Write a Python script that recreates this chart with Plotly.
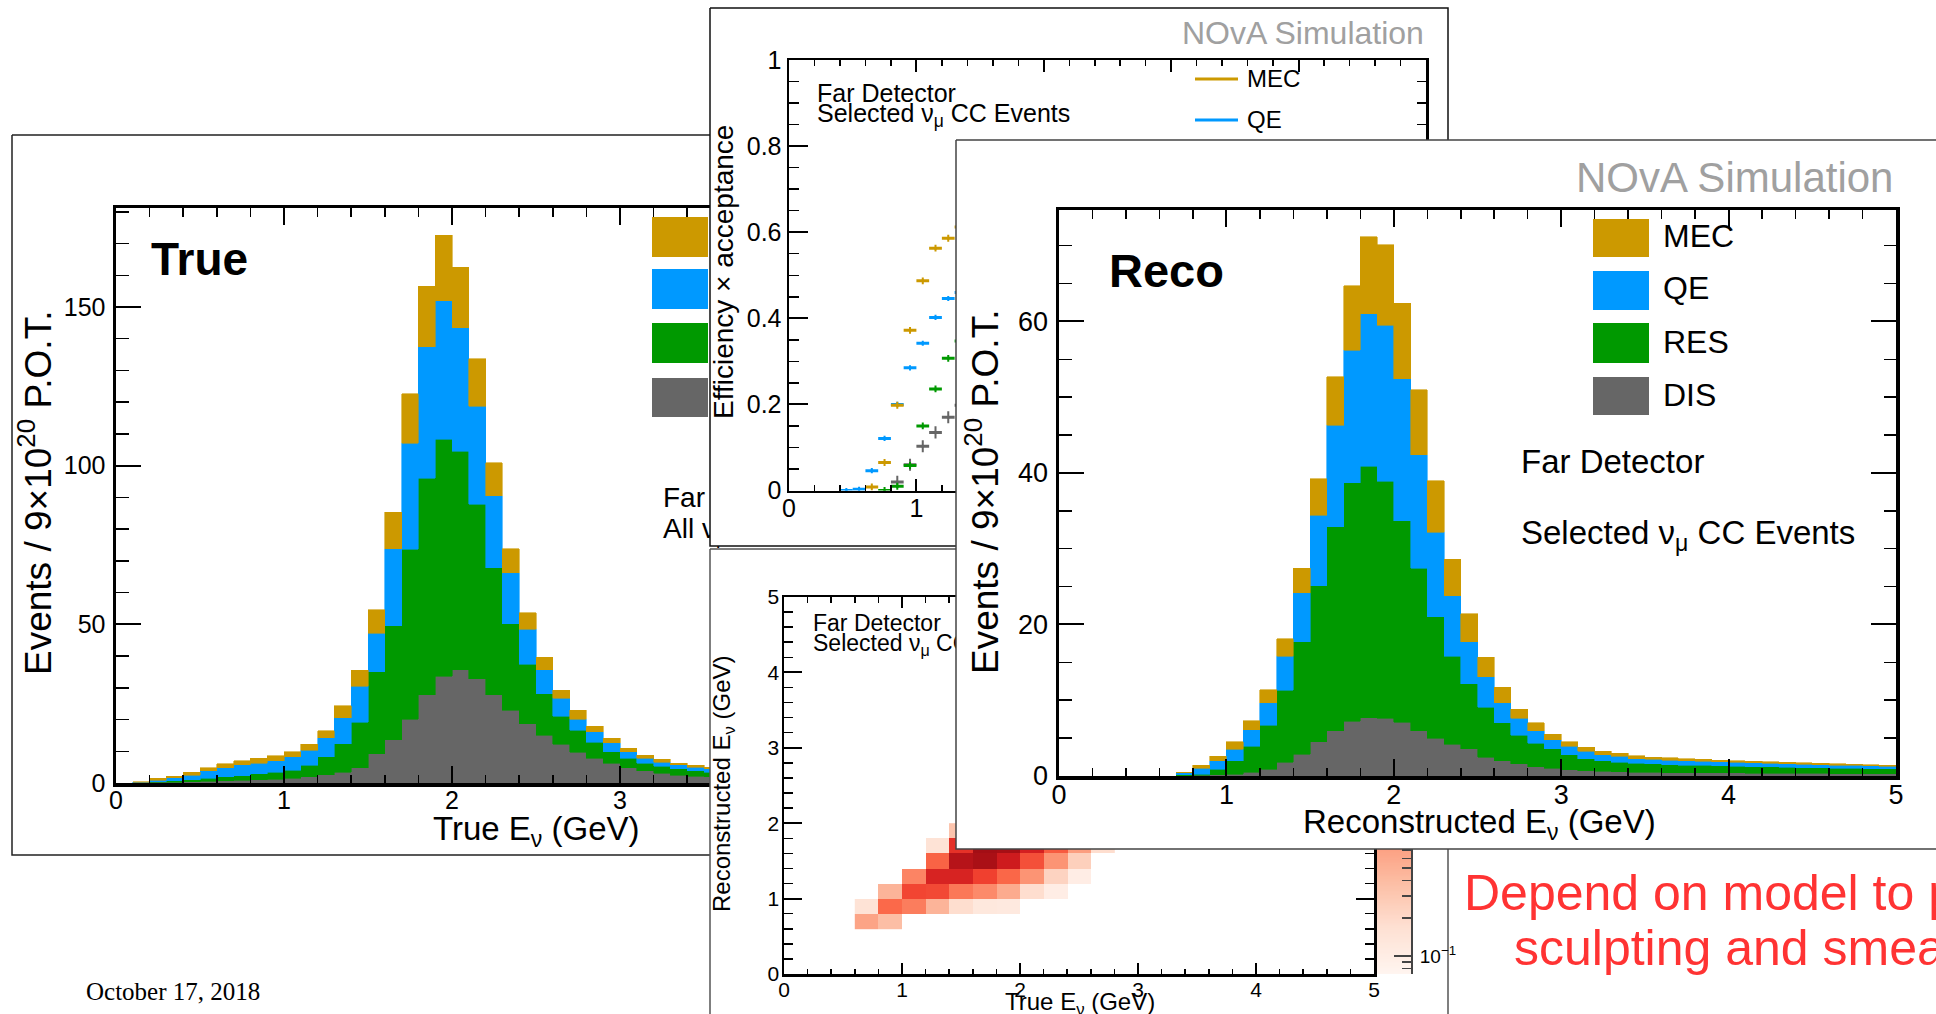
import math
import numpy as np
import plotly.graph_objects as go

W, H = 1936, 1014
SANS = "Liberation Sans, Arial, Helvetica, sans-serif"
SERIF = "Liberation Serif, Times New Roman, serif"

# ---------------- data ----------------
BIN_W = 0.1
# True-energy spectrum (all numu CC), per 0.1 GeV bin starting at 0.0 GeV
true_dis = [0, 0, 0.2, 0.3, 0.4, 0.6, 0.7, 0.9, 1.0, 1.2, 1.5, 1.9, 2.6, 3.4, 4.8, 9.2, 13.6, 20.1, 27.8,
            33.7, 35.7, 32.8, 27.8, 23.0, 18.6, 15.1, 12.2, 9.7, 7.8, 6.3, 4.8, 3.8, 3.1, 2.5, 2.2, 2.0, 1.8]
true_res = [0, 0, 0.2, 0.4, 0.6, 0.9, 1.2, 1.4, 1.9, 2.2, 2.5, 3.7, 5.6, 9.0, 14.4, 25.8, 35.9, 53.6, 68.3,
            74.7, 68.8, 55.1, 40.0, 27.2, 18.8, 13.0, 8.9, 7.0, 5.1, 3.5, 3.0, 2.5, 2.2, 2.0, 1.6, 1.4, 1.3]
true_qe = [0, 0.2, 0.5, 0.9, 1.5, 2.3, 2.9, 3.4, 3.4, 3.6, 4.2, 4.7, 6.1, 8.1, 11.3, 12.2, 24.3, 33.3, 41.3,
           43.6, 38.9, 30.9, 22.7, 16.0, 11.1, 7.6, 5.6, 3.4, 3.2, 2.9, 2.0, 1.5, 1.3, 1.2, 1.2, 1.1, 1.0]
true_mec = [0, 0.2, 0.6, 0.6, 0.9, 1.0, 1.2, 1.3, 1.5, 1.6, 1.7, 1.9, 2.2, 3.8, 5.1, 7.4, 11.5, 15.6, 19.2,
            20.6, 19.1, 14.9, 10.5, 7.6, 5.1, 4.0, 2.6, 2.8, 1.8, 1.4, 1.2, 1.0, 0.9, 0.6, 0.6, 0.5, 0.5]

# Reconstructed-energy spectrum (selected numu CC), per 0.1 GeV bin starting at 0.0 GeV
reco_dis = [0, 0, 0, 0, 0, 0, 0,
            0.05, 0.1, 0.15, 0.25, 0.5, 0.9, 1.8, 2.9, 4.5, 6.0, 7.2, 7.7, 7.6, 7.1, 6.0, 5.0, 4.2, 3.6, 2.5,
            2.0, 1.6, 1.2, 1.0, 0.8, 0.7, 0.6, 0.55, 0.5, 0.5, 0.45, 0.45, 0.42, 0.4, 0.4, 0.38, 0.37, 0.36,
            0.35, 0.34, 0.33, 0.32, 0.31, 0.3]
reco_res = [0, 0, 0, 0, 0, 0, 0,
            0.1, 0.15, 0.75, 1.75, 3.4, 5.8, 9.5, 14.8, 20.6, 26.9, 31.5, 33.2, 31.3, 26.6, 21.4, 16.0, 11.6,
            8.6, 6.6, 5.0, 3.8, 3.1, 2.6, 2.0, 1.6, 1.4, 1.25, 1.2, 1.1, 1.05, 1.0, 0.98, 0.95, 0.9, 0.87,
            0.83, 0.79, 0.75, 0.74, 0.72, 0.68, 0.66, 0.65]
reco_qe = [0, 0, 0, 0, 0, 0, 0,
           0.25, 0.75, 1.1, 1.5, 2.2, 3.0, 4.5, 6.5, 9.3, 13.4, 17.5, 20.1, 20.6, 18.7, 15.0, 11.2, 8.0, 5.5,
           4.0, 2.7, 2.2, 1.7, 1.2, 1.1, 1.0, 0.8, 0.8, 0.6, 0.6, 0.6, 0.55, 0.55, 0.5, 0.5, 0.5, 0.5, 0.45,
           0.45, 0.42, 0.4, 0.4, 0.38, 0.35]
reco_mec = [0, 0, 0, 0, 0, 0, 0,
            0.1, 0.4, 0.6, 1.0, 1.2, 1.7, 2.3, 3.2, 4.8, 6.4, 8.5, 10.2, 10.6, 10.0, 8.6, 6.8, 4.8, 3.7, 2.6,
            2.0, 1.2, 1.0, 0.7, 0.6, 0.5, 0.5, 0.4, 0.4, 0.3, 0.3, 0.3, 0.25, 0.25, 0.2, 0.2, 0.2, 0.2, 0.2,
            0.2, 0.15, 0.15, 0.15, 0.15]

# Efficiency x acceptance (visible bins)
eff_e = [0.45, 0.55, 0.65, 0.75, 0.85, 0.95, 1.05, 1.15, 1.25, 1.35]
eff_mec = [None, None, 0.008, 0.065, 0.198, 0.372, 0.487, 0.563, 0.586, 0.612]
eff_qe = [0.0, 0.003, 0.046, 0.121, 0.20, 0.285, 0.342, 0.402, 0.446, 0.46]
eff_res = [None, None, None, 0.0, 0.01, 0.058, 0.150, 0.236, 0.307, 0.347]
eff_dis = [None, None, None, None, 0.02, 0.06, 0.103, 0.135, 0.17, 0.198]

# Smearing matrix (visible cells), 0.2 GeV bins
smear_true_e = [0.7, 0.9, 1.1, 1.3, 1.5, 1.7, 1.9, 2.1, 2.3, 2.5, 2.7]
smear_reco_e = [0.7, 0.9, 1.1, 1.3, 1.5, 1.7, 1.9]
smear_counts = [
    [0.66, 0.38, None, None, None, None, None, None, None, None, None],
    [0.15, 2.3, 1.5, 0.47, 0.18, 0.125, 0.117, None, None, None, None],
    [None, 0.47, 4.5, 4.2, 1.7, 1.15, 0.57, 0.18, 0.10, None, None],
    [None, None, 1.3, 9.7, 9.7, 4.9, 2.4, 0.93, 0.23, 0.10, None],
    [None, None, None, 2.6, 20.7, 27.4, 11.9, 3.7, 0.93, 0.25, None],
    [None, None, None, 0.15, 6.9, 31.4, 29.3, 10.4, 3.0, 0.75, 0.18],
    [None, None, None, None, 0.33, None, None, None, None, None, None],
]
z_min, z_max = 0.072, 72.0

modes = ["MEC", "QE", "RES", "DIS"]
COL = {"MEC": "#cc9900", "QE": "#0099ff", "RES": "#009900", "DIS": "#666666"}
REDS = ['#fff5f0', '#fee0d2', '#fcbba1', '#fc9272', '#fb6a4a', '#ef3b2c', '#cb181d', '#a50f15', '#67000d']
REDS_SCALE = [[i / 8, c] for i, c in enumerate(REDS)]

# ---------------- geometry (pixels) ----------------
P = {
    "true": dict(box=(12, 135, 1000, 855), ax=(116, 208, 956, 783), xr=(0, 5), yr=(0, 181.2)),
    "eff": dict(box=(710, 8, 1448, 546), ax=(789, 60, 1426, 490.5), xr=(0, 5), yr=(0, 1)),
    "smear": dict(box=(710, 549, 1448, 1040), ax=(784, 597, 1374, 974), xr=(0, 5), yr=(0, 5)),
    "reco": dict(box=(956, 140, 1960, 849), ax=(1059, 210, 1896, 776), xr=(0, 5), yr=(0, 74.7)),
}
CBAR = (1377, 597, 1411, 974)


def xdom(a, b):
    return [max(0.0, a / W), min(1.0, b / W)]


def ydom(top, bot):
    return [max(0.0, 1 - bot / H), min(1.0, 1 - top / H)]


def to_data(p, px, py):
    ax0, ay0, ax1, ay1 = p["ax"]
    x = p["xr"][0] + (px - ax0) / (ax1 - ax0) * (p["xr"][1] - p["xr"][0])
    y = p["yr"][0] + (ay1 - py) / (ay1 - ay0) * (p["yr"][1] - p["yr"][0])
    return x, y


fig = go.Figure()
layout = dict(width=W, height=H, autosize=False, margin=dict(l=0, r=0, t=0, b=0, pad=0),
              paper_bgcolor="white", plot_bgcolor="rgba(0,0,0,0)", template="none",
              showlegend=False, barmode="stack", bargap=0, shapes=[], annotations=[])


def bg_axes(n, box, color):
    x0, y0, x1, y1 = box
    pad = 3
    sfx = "" if n == 1 else str(n)
    xa = dict(domain=xdom(x0 - pad, x1 + pad), range=[max(0, x0 - pad), min(W, x1 + pad)],
              visible=False, fixedrange=True, anchor="y" + sfx)
    ya = dict(domain=ydom(y0 - pad, y1 + pad), range=[min(H, y1 + pad), max(0, y0 - pad)],
              visible=False, fixedrange=True, anchor="x" + sfx)
    layout["xaxis" + sfx] = xa
    layout["yaxis" + sfx] = ya
    fig.add_trace(go.Scatter(x=[x0, x1, x1, x0, x0], y=[y0, y0, y1, y1, y0], mode="lines",
                             fill="toself", fillcolor="white", line=dict(color=color, width=1.5),
                             hoverinfo="skip", xaxis="x" + sfx, yaxis="y" + sfx))


def frame_axes(n, p, xdt, xmdt, ydt, ymdt, xtl, ytl, lw, fs, xstand=0, ystand=0):
    ax0, ay0, ax1, ay1 = p["ax"]
    sfx = str(n)
    common = dict(showline=True, linecolor="black", linewidth=lw, mirror="allticks", ticks="inside",
                  tickcolor="black", tick0=0, showgrid=False, zeroline=False, fixedrange=True,
                  automargin=False, tickfont=dict(family=SANS, size=fs, color="black"))
    layout["xaxis" + sfx] = dict(common, domain=xdom(ax0, ax1), range=list(p["xr"]), anchor="y" + sfx,
                                 dtick=xdt, ticklen=xtl, tickwidth=2, ticklabelstandoff=xstand,
                                 minor=dict(ticks="inside", dtick=xmdt, tick0=0, ticklen=xtl / 2,
                                            tickwidth=1.5, tickcolor="black", showgrid=False))
    layout["yaxis" + sfx] = dict(common, domain=ydom(ay0, ay1), range=list(p["yr"]), anchor="x" + sfx,
                                 dtick=ydt, ticklen=ytl, tickwidth=2, ticklabelstandoff=ystand,
                                 minor=dict(ticks="inside", dtick=ymdt, tick0=0, ticklen=ytl / 2,
                                            tickwidth=1.5, tickcolor="black", showgrid=False))


def text_trace(n, p, px, py, txt, size, color="black", pos="middle right"):
    x, y = to_data(p, px, py)
    fig.add_trace(go.Scatter(x=[x], y=[y], mode="text", text=[txt], textposition=pos,
                             textfont=dict(family=SANS, size=size, color=color), cliponaxis=False,
                             hoverinfo="skip", xaxis="x%d" % n, yaxis="y%d" % n))


def stack_bars(n, comps):
    for m in ["DIS", "RES", "QE", "MEC"]:
        vals = comps[m]
        xs = [round(i * BIN_W + BIN_W / 2, 3) for i in range(len(vals))]
        fig.add_trace(go.Bar(x=xs, y=vals, width=BIN_W,
                             marker=dict(color=COL[m], line=dict(width=0.6, color=COL[m])),
                             hoverinfo="skip", xaxis="x%d" % n, yaxis="y%d" % n))


def ann(px, py, txt, size, xanchor="left", color="black", family=SANS, angle=0):
    layout["annotations"].append(dict(x=px / W, y=1 - py / H, xref="paper", yref="paper", text=txt,
                                      showarrow=False, xanchor=xanchor, yanchor="middle", textangle=angle,
                                      font=dict(family=family, size=size, color=color)))


# ===== 1-2: True panel =====
bg_axes(1, P["true"]["box"], "#222222")
frame_axes(2, P["true"], 1, 0.2, 50, 10, 17, 25, 3.5, 25, xstand=-8, ystand=2)
stack_bars(2, {"DIS": true_dis, "RES": true_res, "QE": true_qe, "MEC": true_mec})
text_trace(2, P["true"], 151, 263, "<b>True</b>", 46)
text_trace(2, P["true"], 956, 173, "NOvA Simulation", 42, color="#a0a0a0", pos="middle left")
text_trace(2, P["true"], 663, 500, "Far Detector", 28)
text_trace(2, P["true"], 663, 531, "All ν<sub>μ</sub> CC Events", 28)
for m, (t, b) in zip(modes, [(217, 257), (269, 309), (323, 363), (378, 417)]):
    xa, ya = to_data(P["true"], 652, b)
    xb, yb = to_data(P["true"], 708, t)
    layout["shapes"].append(dict(type="rect", xref="x2", yref="y2", x0=xa, x1=xb, y0=ya, y1=yb,
                                 fillcolor=COL[m], line=dict(width=0), layer="below"))

# ===== 3-4: efficiency panel =====
bg_axes(3, P["eff"]["box"], "#111111")
frame_axes(4, P["eff"], 1, 0.2, 0.2, 0.05, 12, 19, 2.5, 25, xstand=-6, ystand=0)
for m, vals, ey in [("DIS", eff_dis, 0.014), ("RES", eff_res, 0.008), ("QE", eff_qe, 0.006), ("MEC", eff_mec, 0.008)]:
    fig.add_trace(go.Scatter(x=eff_e, y=vals, mode="markers", marker=dict(size=3, color=COL[m]),
                             error_x=dict(type="constant", value=BIN_W / 2, width=0, thickness=3, color=COL[m]),
                             error_y=dict(type="constant", value=ey, width=0, thickness=2, color=COL[m]),
                             hoverinfo="skip", xaxis="x4", yaxis="y4"))

# ===== 5-7: smearing matrix panel =====
bg_axes(5, P["smear"]["box"], "#555555")
frame_axes(6, P["smear"], 1, 0.2, 1, 0.2, 11, 18, 2.5, 21, xstand=-5, ystand=-2)
zlog = [[(math.log10(v) if v is not None else None) for v in row] for row in smear_counts]
fig.add_trace(go.Heatmap(x=smear_true_e, y=smear_reco_e, z=zlog, zmin=math.log10(z_min), zmax=math.log10(z_max),
                         colorscale=REDS_SCALE, showscale=False, hoverinfo="skip", xaxis="x6", yaxis="y6"))
text_trace(6, P["smear"], 813, 625, "Far Detector", 23)
text_trace(6, P["smear"], 813, 645, "Selected ν<sub>μ</sub> CC Events", 23)

# colour-scale strip (log z)
lo, hi = math.log10(z_min), math.log10(z_max)
strip = list(np.linspace(lo, hi, 300))
fig.add_trace(go.Heatmap(x=[0], y=strip, z=[[v] for v in strip], zmin=lo, zmax=hi, colorscale=REDS_SCALE,
                         showscale=False, hoverinfo="skip", xaxis="x7", yaxis="y7"))
minor_vals = [math.log10(k * 10 ** d) for d in (-2, -1, 0, 1) for k in range(2, 10)
              if lo <= math.log10(k * 10 ** d) <= hi]
layout["xaxis7"] = dict(domain=xdom(CBAR[0], CBAR[2]), range=[-0.5, 0.5], visible=False, fixedrange=True, anchor="y7")
layout["yaxis7"] = dict(domain=ydom(CBAR[1], CBAR[3]), range=[lo, hi], anchor="x7", side="right",
                        showline=True, linecolor="#444444", linewidth=2, ticks="inside", ticklen=17,
                        tickwidth=1.5, tickcolor="#444444", tickmode="array", tickvals=[-1, 0, 1],
                        ticktext=["10<sup>−1</sup>", "1", "10"], showgrid=False, zeroline=False,
                        fixedrange=True, automargin=False, ticklabelstandoff=3,
                        tickfont=dict(family=SANS, size=19, color="black"),
                        minor=dict(ticks="inside", tickmode="array", tickvals=minor_vals, ticklen=9,
                                   tickwidth=1.5, tickcolor="#444444", showgrid=False))

# ===== 8-9: Reco panel =====
bg_axes(8, P["reco"]["box"], "#444444")
frame_axes(9, P["reco"], 1, 0.2, 20, 5, 17, 25, 3.5, 27, xstand=-8, ystand=2)
stack_bars(9, {"DIS": reco_dis, "RES": reco_res, "QE": reco_qe, "MEC": reco_mec})
for m, (t, b) in zip(modes, [(219, 257), (271, 310), (323, 363), (377, 415)]):
    layout["shapes"].append(dict(type="rect", xref="paper", yref="paper", x0=1593 / W, x1=1649 / W,
                                 y0=1 - b / H, y1=1 - t / H, fillcolor=COL[m], line=dict(width=0), layer="above"))

# ---- eff legend lines ----
for m, yy in [("MEC", 79), ("QE", 120)]:
    layout["shapes"].append(dict(type="line", xref="paper", yref="paper", x0=1195 / W, x1=1238 / W,
                                 y0=1 - yy / H, y1=1 - yy / H, line=dict(color=COL[m], width=3), layer="above"))

# ---- annotations (top layer texts) ----
ann(1426, 33, "NOvA Simulation", 32, xanchor="right", color="#a0a0a0")
ann(1245, 79, "MEC", 24)
ann(1245, 120, "QE", 24)
ann(815, 93, "Far Detector", 25)
ann(815, 115, "Selected ν<sub>μ</sub> CC Events", 25)
ann(723, 272, "Efficiency × acceptance", 28, xanchor="center", angle=-90)

ann(723, 784, "Reconstructed E<sub>ν</sub> (GeV)", 24, xanchor="center", angle=-90)
ann(1080, 1003, "True E<sub>ν</sub> (GeV)", 24, xanchor="center")

ann(36, 493, "Events / 9×10<sup>20</sup> P.O.T.", 37, xanchor="center", angle=-90)
ann(536, 831, "True E<sub>ν</sub> (GeV)", 33, xanchor="center")

ann(982, 492, "Events / 9×10<sup>20</sup> P.O.T.", 37, xanchor="center", angle=-90)
ann(1479, 824, "Reconstructed E<sub>ν</sub> (GeV)", 33, xanchor="center")
ann(1895, 177, "NOvA Simulation", 42, xanchor="right", color="#a0a0a0")
ann(1107, 270, "<b>Reco</b>", 47)
for m, yy in zip(modes, [236, 288, 342, 395]):
    ann(1661, yy, m, 32)
ann(1519, 461, "Far Detector", 33)
ann(1519, 535, "Selected ν<sub>μ</sub> CC Events", 33)

ann(1771, 893, "Depend on model to predict", 50, xanchor="center", color="rgb(255,51,51)")
ann(1771, 948, "sculpting and smearing", 50, xanchor="center", color="rgb(255,51,51)")
ann(84, 991, "October 17, 2018", 25, family=SERIF)

fig.update_layout(**layout)
fig.write_html("out.html", config={"displayModeBar": False, "staticPlot": True},
               post_script="document.body.style.margin='0px';")
